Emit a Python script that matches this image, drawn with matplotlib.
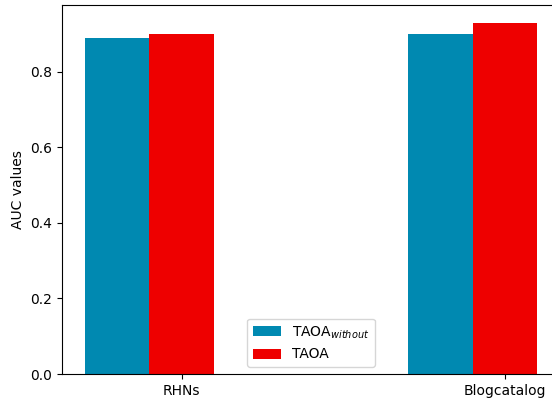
import numpy as np
import matplotlib.pyplot as plt

datasets = ["RHNs", "Blogcatalog"]
auc_without = [0.89, 0.90]
auc_taoa = [0.90, 0.93]

x = np.arange(len(datasets))
w = 0.2

fig = plt.figure(figsize=(5.52, 4.0), dpi=100)
ax = fig.add_axes([62 / 552, 26 / 400, 498 / 552, 369 / 400])

ax.bar(x - w, auc_without, w, color="#0089B1", label=r"TAOA$_{without}$")
ax.bar(x, auc_taoa, w, color="#EE0000", label="TAOA")

ax.set_xticks(x)
ax.set_xticklabels(datasets)
ax.set_ylabel("AUC values")
ax.legend(loc="lower center")

fig.savefig("out.png", dpi=100)
